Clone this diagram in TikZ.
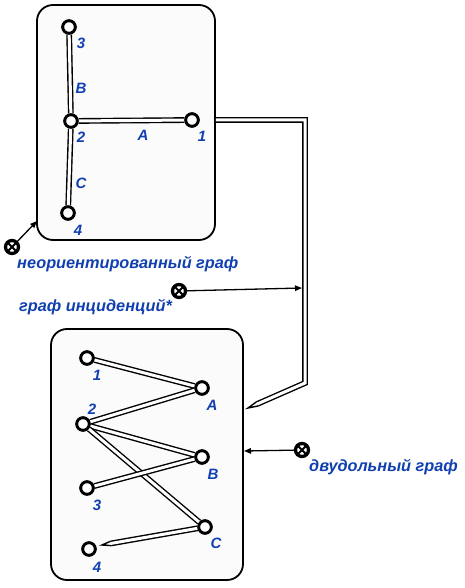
\documentclass[tikz,border=0pt]{standalone}
\usepackage{fontspec}
\setmainfont{Liberation Sans}
\usetikzlibrary{calc,arrows.meta}
\definecolor{lblue}{RGB}{16,64,176}
\begin{document}
\begin{tikzpicture}[x=1pt,y=-1pt,
 vtx/.style={circle,draw,line width=2.8pt,fill=white,minimum size=12.5pt,inner sep=0pt},
 lbl/.style={text=lblue,font=\fontsize{15}{15}\selectfont\bfseries\itshape,inner sep=0pt},
 txt/.style={text=lblue,font=\fontsize{16.3}{16}\selectfont\bfseries\itshape,inner sep=0pt,anchor=west},
 edge/.style={draw=black,double=white,line width=1.4pt,double distance=3pt},
 box/.style={draw,line width=1.8pt,rounded corners=16pt,fill=black!1.5,inner sep=0pt},
 xmark/.style={circle,draw,line width=3.3pt,fill=white,minimum size=13pt,inner sep=0pt,
   path picture={\draw[line width=1.8pt] (path picture bounding box.south west) -- (path picture bounding box.north east)
     (path picture bounding box.north west) -- (path picture bounding box.south east);}},
 ptr/.style={-{Triangle[length=7pt,width=5.5pt]},line width=1.3pt}
]
\useasboundingbox (0,0) rectangle (464,588);
% boxes
\node[box,minimum width=178pt,minimum height=235pt] (topbox) at (126,122.5) {};
\node[box,minimum width=192pt,minimum height=251pt] (botbox) at (147,454.5) {};

% top graph
\node[vtx] (t3) at (69,27) {};
\node[vtx] (t2) at (71,121) {};
\node[vtx] (t1) at (192,120) {};
\node[vtx] (t4) at (68,213) {};
\draw[edge] (t3) -- (t2);
\draw[edge] (t2) -- (t1);
\draw[edge] (t2) -- (t4);
\node[vtx] at (t3) {};
\node[vtx] at (t2) {};
\node[vtx] at (t1) {};
\node[vtx] at (t4) {};
\node[lbl] (l3) at (81,43) {3};
\node[lbl] (lB) at (81,88) {B};
\node[lbl] (l2) at (81,137) {2};
\node[lbl] (lA) at (143,135) {A};
\node[lbl] (l1) at (202,136) {1};
\node[lbl] (lC) at (81,183) {C};
\node[lbl] (l4) at (78,230) {4};

% bottom graph
\node[vtx] (b1) at (87,358) {};
\node[vtx] (bA) at (202,388) {};
\node[vtx] (b2) at (83,424) {};
\node[vtx] (bB) at (202,457) {};
\node[vtx] (b3) at (87,488) {};
\node[vtx] (bC) at (205,527) {};
\node[vtx] (b4) at (89,549) {};
\coordinate (k4) at (102,545);
\draw[edge] (b1) -- (bA);
\draw[edge] (b2) -- (bA);
\draw[edge] (b2) -- (bB);
\draw[edge] (b2) -- (bC);
\draw[edge] (b3) -- (bB);
\coordinate (k4p) at ($(k4)!9pt!(bC)$);
\draw[edge] (bC) -- (k4p);
\filldraw[fill=white,line width=1.4pt] ($(k4p)!2.2pt!90:(k4)$) -- (k4) -- ($(k4p)!2.2pt!-90:(k4)$);
\fill ($(k4)!4.5pt!13:(k4p)$) -- (k4) -- ($(k4)!4.5pt!-13:(k4p)$) -- cycle;
\foreach \n in {b1,bA,b2,bB,b3,bC,b4} \node[vtx] at (\n) {};
\node[lbl] (m1) at (97,375) {1};
\node[lbl] (mA) at (212,405) {A};
\node[lbl] (m2) at (92,409) {2};
\node[lbl] (mB) at (213,474) {B};
\node[lbl] (m3) at (97,505) {3};
\node[lbl] (mC) at (216,543) {C};
\node[lbl] (m4) at (97,567) {4};

% big connector
\coordinate (c0) at (topbox.east |- t1);
\coordinate (c1) at (305,120);
\coordinate (c2) at (305,383);
\coordinate (ct) at (248,408);
\coordinate (cp) at ($(ct)!10pt!(c2)$);
\draw[edge,line join=miter] (c0) -- (c1) -- (c2) -- (cp);
\filldraw[fill=white,line width=1.4pt] ($(cp)!2.2pt!90:(ct)$) -- (ct) -- ($(cp)!2.2pt!-90:(ct)$);
\fill ($(ct)!4.5pt!13:(cp)$) -- (ct) -- ($(ct)!4.5pt!-13:(cp)$) -- cycle;

% markers and pointers
\node[xmark] (x1) at (12,247) {};
\node[xmark] (x2) at (179,291) {};
\node[xmark] (x3) at (302,450) {};
\coordinate (a1) at (37,221);
\coordinate (a2) at (302,288);
\coordinate (a3) at (244,451);
\draw[ptr] (x1) -- (a1);
\draw[ptr] (x2) -- (a2);
\draw[ptr] (x3) -- (a3);

% texts
\node[txt] (tx1) at (17,264) {неориентированный граф};
\node[txt] (tx2) at (19,307) {граф инциденций*};
\node[txt] (tx3) at (309,467) {двудольный граф};
\end{tikzpicture}
\end{document}
